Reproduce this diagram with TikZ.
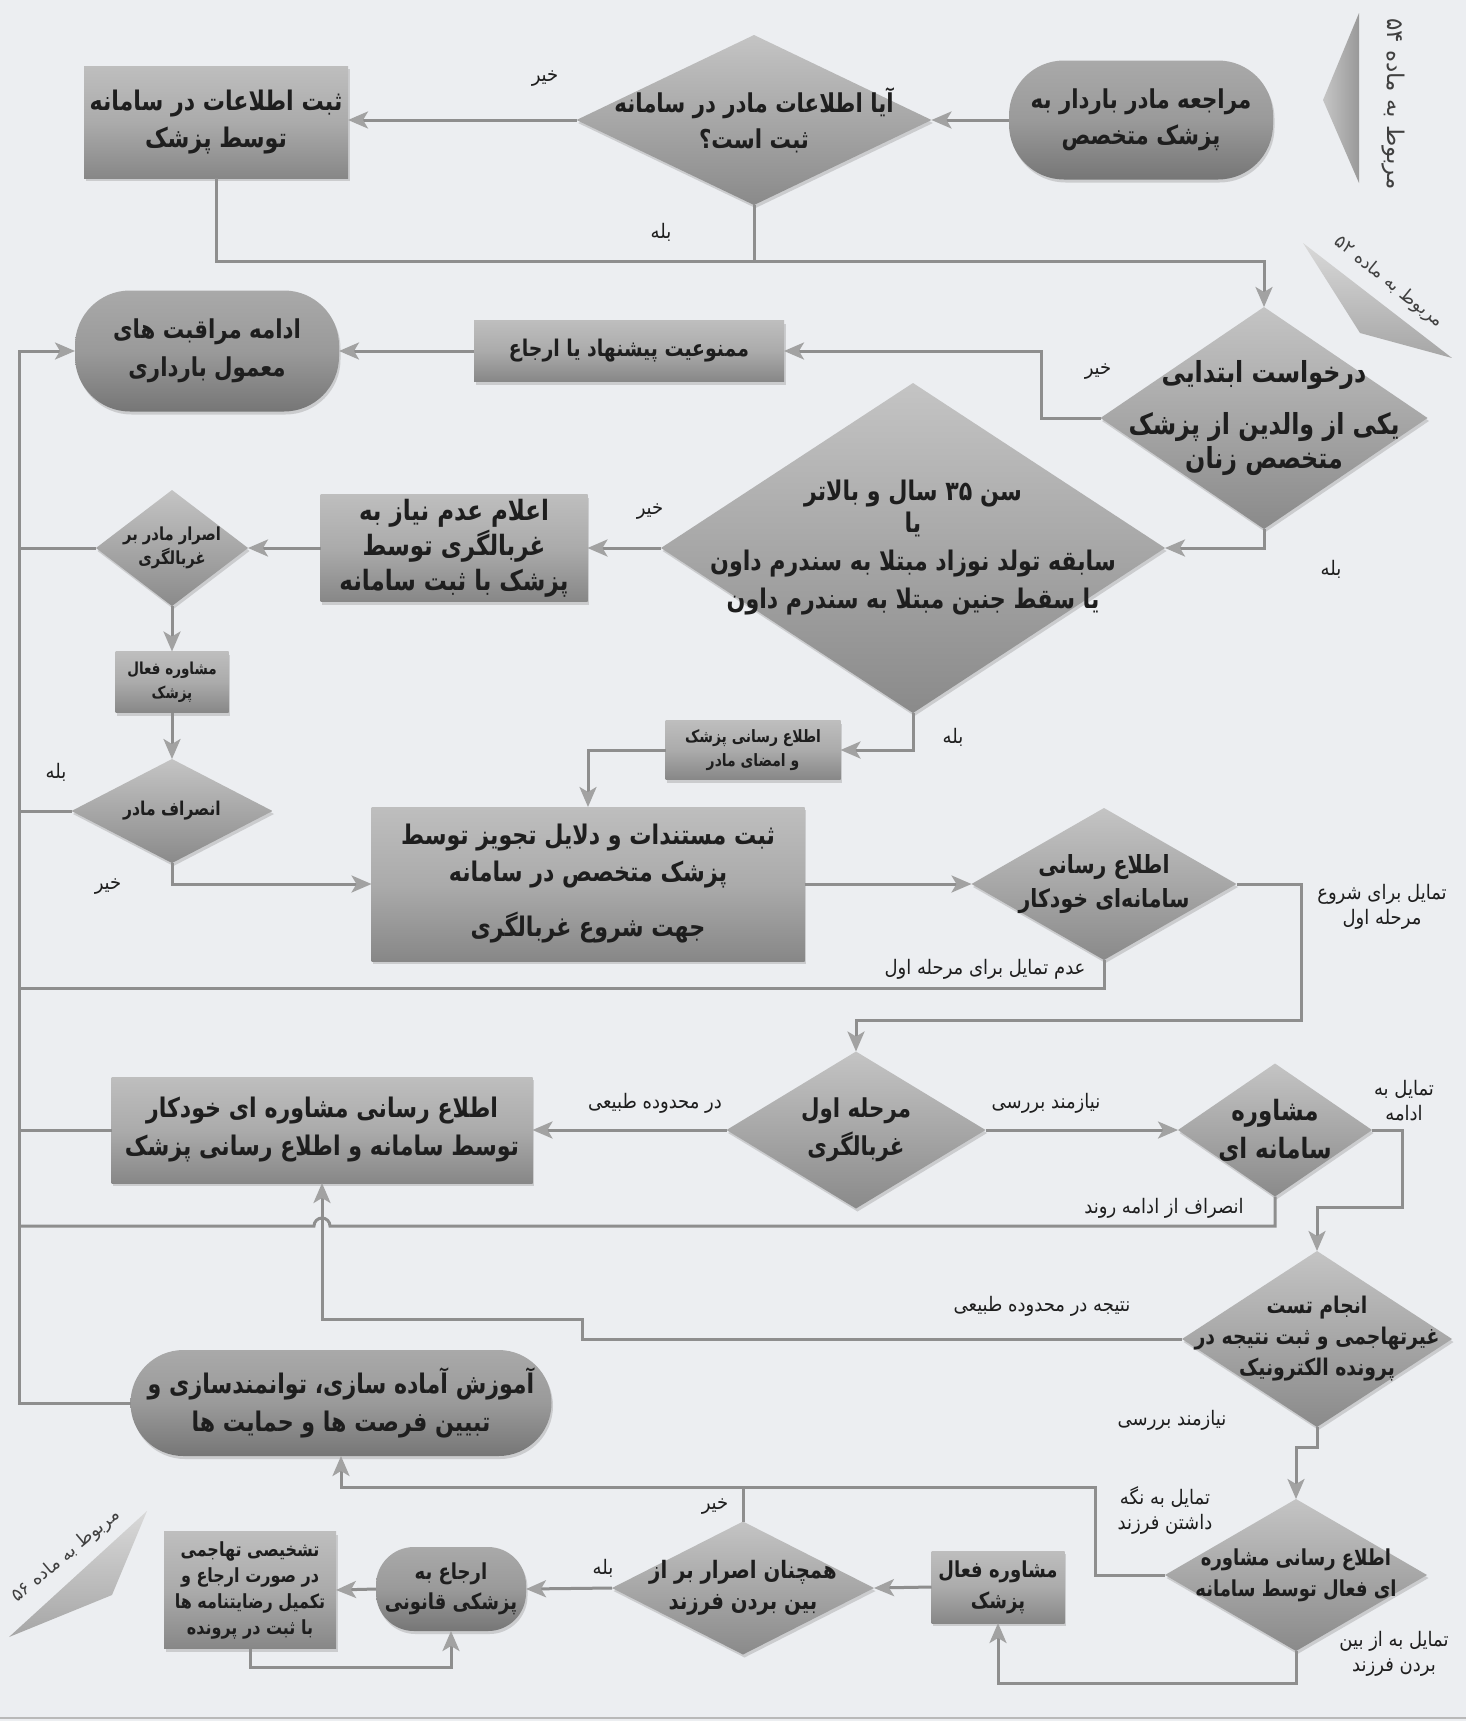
\documentclass[tikz,border=0pt]{standalone}
\usepackage{fontspec}
\usetikzlibrary{shapes.geometric,arrows.meta,shadows}
\TeXXeTstate=1
\newfontfamily\fan[Script=Arabic, FakeStretch=0.82]{DejaVu Sans}
\newfontfamily\fal[Script=Arabic, FakeStretch=0.9]{DejaVu Sans}
\newfontfamily\fas[Script=Arabic]{DejaVu Sans}
\definecolor{bg}{HTML}{ECEEF1}
\definecolor{lc}{HTML}{8E8E8E}
\definecolor{ac}{HTML}{A2A2A2}
\definecolor{tc}{HTML}{1E1E1E}
\definecolor{btop}{HTML}{BEBEBE}
\definecolor{bmid}{HTML}{ABABAB}
\definecolor{bbot}{HTML}{878787}
\definecolor{ttop}{HTML}{A9A9A9}
\definecolor{tmid}{HTML}{9A9A9A}
\definecolor{tbot}{HTML}{767676}
\definecolor{dtop}{HTML}{C4C4C4}
\definecolor{dbot}{HTML}{8A8A8A}
\tikzset{
  shp/.style={inner sep=0pt, outer sep=0pt, draw=none,
    drop shadow={shadow xshift=1.5pt, shadow yshift=-3pt, opacity=0.3}},
  box/.style 2 args={shp, rectangle, minimum width=#1pt, minimum height=#2pt,
    top color=btop, bottom color=bbot, middle color=bmid},
  term/.style n args={3}{shp, rectangle, rounded corners=#3pt, minimum width=#1pt, minimum height=#2pt,
    top color=ttop, bottom color=tbot, middle color=tmid},
  dia/.style 2 args={shp, diamond, aspect=1, minimum width=#1pt, minimum height=#2pt,
    top color=dtop, bottom color=dbot},
  ntxt/.style args={#1/#2}{font=\fan\bfseries\fontsize{#1pt}{#2pt}\selectfont, text=tc, align=center, inner sep=0pt},
  elbl/.style={font=\fal\fontsize{20pt}{25pt}\selectfont, text=tc, align=center, inner sep=0pt},
  side/.style={font=\fas\fontsize{#1pt}{#1pt}\selectfont, text=tc!85, inner sep=0pt},
  line/.style={draw=lc, line width=3pt},
  arr/.style={line, -{Stealth[length=20pt, width=17pt, inset=5pt, color=ac]}},
}
\begin{document}
\begin{tikzpicture}[x=1pt,y=-1pt]
\useasboundingbox (0,0) rectangle (1466,1721);
\fill[bg] (0,0) rectangle (1466,1721);
\draw[gray!55, line width=2pt] (0,1718) -- (1466,1718);

% side markers
\shade[left color=gray!45, right color=gray!80] (1323,100) -- (1359,13) -- (1359,183) -- cycle;
\node[side=23, rotate=-90] (s54) at (1393,104) {\beginR مربوط به ماده ۵۴\endR};
\shade[top color=gray!30, bottom color=gray!70] (1303,243) -- (1452,358) -- (1360,333) -- cycle;
\node[side=18, rotate=-39] (s52) at (1389,282) {\beginR مربوط به ماده ۵۲\endR};
\shade[top color=gray!30, bottom color=gray!70] (147,1511) -- (9,1637) -- (112,1595) -- cycle;
\node[side=18, rotate=40] (s56) at (66,1556) {\beginR مربوط به ماده ۵۶\endR};

% nodes
\node[term={264}{119}{55}, label={[ntxt=26/36]center:{\beginR مراجعه مادر باردار به\endR\\\beginR پزشک متخصص\endR}}] (T1) at (1141,120) {};
\node[dia={355}{170}, label={[ntxt=26/36]center:{\beginR آیا اطلاعات مادر در سامانه\endR\\\beginR ثبت است؟\endR}}] (d1) at (754,120) {};
\node[box={264}{112}, label={[ntxt=27/37]center:{\beginR ثبت اطلاعات در سامانه\endR\\\beginR توسط پزشک\endR}}] (r1) at (216,122) {};
\node[term={264}{121}{55}, label={[ntxt=26/38]center:{\beginR ادامه مراقبت های\endR\\\beginR معمول بارداری\endR}}] (t2) at (207,351) {};
\node[box={310}{61}, label={[ntxt=23/30]center:{\beginR ممنوعیت پیشنهاد یا ارجاع\endR}}] (r2) at (629,351) {};
\node[dia={327}{222}, label={[ntxt=29/34]center:{\beginR درخواست ابتدایی\endR\\[18pt]\beginR یکی از والدین از پزشک\endR\\\beginR متخصص زنان\endR}}] (d2) at (1264,418) {};
\node[dia={504}{330}, label={[ntxt=27/38]center:{\beginR سن ۳۵ سال و بالاتر\endR\\[-6pt]\beginR یا\endR\\\beginR سابقه تولد نوزاد مبتلا به سندرم داون\endR\\\beginR یا سقط جنین مبتلا به سندرم داون\endR}}] (d3) at (913,548) {};
\node[box={267}{107}, label={[ntxt=28/35]center:{\beginR اعلام عدم نیاز به\endR\\\beginR غربالگری توسط\endR\\\beginR پزشک با ثبت سامانه\endR}}] (r3) at (454,548) {};
\node[dia={152}{116}, label={[ntxt=18/24]center:{\beginR اصرار مادر بر\endR\\\beginR غربالگری\endR}}] (d4) at (172,548) {};
\node[box={113}{61}, label={[ntxt=16.5/24]center:{\beginR مشاوره فعال\endR\\\beginR پزشک\endR}}] (r4) at (172,682) {};
\node[dia={201}{104}, label={[ntxt=19/24]center:{\beginR انصراف مادر\endR}}] (d5) at (172,811) {};
\node[box={175}{59}, label={[ntxt=17/24]center:{\beginR اطلاع رسانی پزشک\endR\\\beginR و امضای مادر\endR}}] (r5) at (753,750) {};
\node[box={433}{154}, label={[ntxt=27/37]center:{\beginR ثبت مستندات و دلایل تجویز توسط\endR\\\beginR پزشک متخصص در سامانه\endR\\[18pt]\beginR جهت شروع غربالگری\endR}}] (r6) at (588,884) {};
\node[dia={265}{152}, label={[ntxt=25/34]center:{\beginR اطلاع رسانی\endR\\\beginR سامانه‌ای خودکار\endR}}] (d6) at (1104,884) {};
\node[dia={259}{157}, label={[ntxt=26/38]center:{\beginR مرحله اول\endR\\\beginR غربالگری\endR}}] (d7) at (856,1130) {};
\node[dia={194}{133}, label={[ntxt=28/38]center:{\beginR مشاوره\endR\\\beginR سامانه ای\endR}}] (d8) at (1275,1130) {};
\node[box={421}{106}, label={[ntxt=27/38]center:{\beginR اطلاع رسانی مشاوره ای خودکار\endR\\\beginR توسط سامانه و اطلاع رسانی پزشک\endR}}] (r7) at (322,1130) {};
\node[dia={270}{176}, label={[ntxt=23/31]center:{\beginR انجام تست\endR\\\beginR غیرتهاجمی و ثبت نتیجه در\endR\\\beginR پرونده الکترونیک\endR}}] (d9) at (1317,1339) {};
\node[term={421}{106}{53}, label={[ntxt=27/38]center:{\beginR آموزش آماده سازی، توانمندسازی و\endR\\\beginR تبیین فرصت ها و حمایت ها\endR}}] (t3) at (341,1403) {};
\node[dia={262}{152}, label={[ntxt=22/31]center:{\beginR اطلاع رسانی مشاوره\endR\\\beginR ای فعال توسط سامانه\endR}}] (d10) at (1296,1575) {};
\node[box={133}{72}, label={[ntxt=22/31]center:{\beginR مشاوره فعال\endR\\\beginR پزشک\endR}}] (r8) at (998,1587) {};
\node[dia={262}{133}, label={[ntxt=24/31]center:{\beginR همچنان اصرار بر از\endR\\\beginR بین بردن فرزند\endR}}] (d11) at (743,1588) {};
\node[term={150}{84}{38}, label={[ntxt=22/30]center:{\beginR ارجاع به\endR\\\beginR پزشکی قانونی\endR}}] (t4) at (451,1589) {};
\node[box={172}{117}, label={[ntxt=19.5/26]center:{\beginR تشخیصی تهاجمی\endR\\\beginR در صورت ارجاع و\endR\\\beginR تکمیل رضایتنامه ها\endR\\\beginR با ثبت در پرونده\endR}}] (r9) at (250,1590) {};

% connectors
\coordinate (bt) at (19,351);
\coordinate (bb) at (19,1403);
\coordinate (j1) at (1264,261);
\draw[arr] (T1.west) -- (d1.east);
\draw[arr] (d1.west) -- (d1.west -| r1.east);
\draw[arr] (r1.south) |- (j1) -- (d2.north);
\draw[line] (d1.south) -- (d1.south |- j1);
\draw[arr] (d2.west) -- ++(-59,0) |- (r2.east);
\draw[arr] (r2.west) -- (t2.east);
\draw[arr] (d2.south) |- (d3.east);
\draw[arr] (d3.west) -- (r3.east);
\draw[arr] (r3.west) -- (d4.east);
\draw[line] (d4.west) -- (d4.west -| bt);
\draw[arr] (d4.south) -- (r4.north);
\draw[arr] (r4.south) -- (d5.north);
\draw[line] (d5.west) -- (d5.west -| bt);
\draw[arr] (d5.south) |- (r6.west);
\draw[arr] (d3.south) |- (r5.east);
\draw[arr] (r5.west) -| (r6.north);
\draw[arr] (r6.east) -- (d6.west);
\draw[arr] (d6.east) -- (1301,884) -- (1301,1020) -| (d7.north);
\draw[line] (d6.south) |- (19,988);
\draw[arr] (d7.west) -- (r7.east);
\draw[arr] (d7.east) -- (d8.west);
\draw[line] (r7.west) -- (r7.west -| bt);
\draw[arr] (d8.east) -- (1402,1130) -- (1402,1207) -| (d9.north);
\draw[line] (d8.south) |- (330,1226) arc[start angle=0, end angle=180, radius=8pt] -- (19,1226);
\draw[arr] (d9.west) -- (582,1339) -- (582,1319) -| (r7.south);
\draw[arr] (d9.south) |- (1296,1447) -- (d10.north);
\draw[arr] (d10.west) -- (1095,1575) -- (1095,1487) -| (t3.south);
\draw[line] (d11.north) -- (743,1487);
\draw[arr] (d10.south) -- (1296,1683) -| (r8.south);
\draw[arr] (r8.west) -- (d11.east);
\draw[arr] (d11.west) -- (t4.east);
\draw[arr] (t4.west) -- (r9.east);
\draw[arr] (r9.south) -- (250,1667) -| (t4.south);
\draw[arr] (t3.west) -- (bb) -- (bt) -- (t2.west);

% edge labels
\node[elbl] (l1) at (545,79) {\beginR خیر\endR};
\node[elbl] (l2) at (661,232) {\beginR بله\endR};
\node[elbl] (l3) at (1098,372) {\beginR خیر\endR};
\node[elbl] (l4) at (1331,569) {\beginR بله\endR};
\node[elbl] (l5) at (650,512) {\beginR خیر\endR};
\node[elbl] (l6) at (953,737) {\beginR بله\endR};
\node[elbl] (l7) at (56,772) {\beginR بله\endR};
\node[elbl] (l8) at (108,887) {\beginR خیر\endR};
\node[elbl] (l9) at (1382,907) {\beginR تمایل برای شروع\endR\\\beginR مرحله اول\endR};
\node[elbl] (l10) at (985,969) {\beginR عدم تمایل برای مرحله اول\endR};
\node[elbl] (l11) at (655,1103) {\beginR در محدوده طبیعی\endR};
\node[elbl] (l12) at (1046,1103) {\beginR نیازمند بررسی\endR};
\node[elbl] (l13) at (1404,1101) {\beginR تمایل به\endR\\\beginR ادامه\endR};
\node[elbl] (l14) at (1164,1208) {\beginR انصراف از ادامه روند\endR};
\node[elbl] (l15) at (1042,1306) {\beginR نتیجه در محدوده طبیعی\endR};
\node[elbl] (l16) at (1172,1420) {\beginR نیازمند بررسی\endR};
\node[elbl] (l17) at (1165,1510) {\beginR تمایل به نگه\endR\\\beginR داشتن فرزند\endR};
\node[elbl] (l18) at (1394,1654) {\beginR تمایل به از بین\endR\\\beginR بردن فرزند\endR};
\node[elbl] (l19) at (715,1507) {\beginR خیر\endR};
\node[elbl] (l20) at (603,1568) {\beginR بله\endR};
\end{tikzpicture}
\end{document}
